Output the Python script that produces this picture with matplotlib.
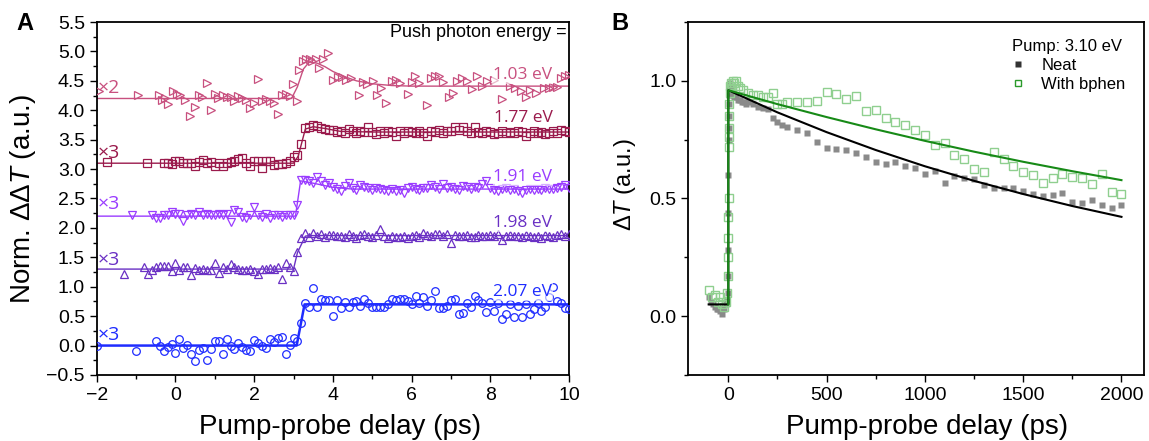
import numpy as np
import matplotlib
matplotlib.use("Agg")
import matplotlib.pyplot as plt
from matplotlib.lines import Line2D
from matplotlib.ticker import MultipleLocator

plt.rcParams['font.family'] = ['Liberation Sans', 'DejaVu Sans']
plt.rcParams['mathtext.fontset'] = 'custom'
plt.rcParams['mathtext.rm'] = 'Liberation Sans'
plt.rcParams['mathtext.it'] = 'Liberation Sans:italic'

#%% panel A data (pump-probe delay in ps, shared grid)
delay_a = [-0.5, -0.4, -0.3, -0.2, -0.1,
           0.0, 0.1, 0.2, 0.3, 0.4, 0.5, 0.6, 0.7, 0.8, 0.9,
           1.0, 1.1, 1.2, 1.3, 1.4, 1.5, 1.6, 1.7, 1.8, 1.9,
           2.0, 2.1, 2.2, 2.3, 2.4, 2.5, 2.6, 2.7, 2.8, 2.9,
           3.0, 3.1, 3.2, 3.3, 3.4, 3.5, 3.6, 3.7, 3.8, 3.9,
           4.0, 4.1, 4.2, 4.3, 4.4, 4.5, 4.6, 4.7, 4.8, 4.9,
           5.0, 5.1, 5.2, 5.3, 5.4, 5.5, 5.6, 5.7, 5.8, 5.9,
           6.0, 6.1, 6.2, 6.3, 6.4, 6.5, 6.6, 6.7, 6.8, 6.9,
           7.0, 7.1, 7.2, 7.3, 7.4, 7.5, 7.6, 7.7, 7.8, 7.9,
           8.0, 8.1, 8.2, 8.3, 8.4, 8.5, 8.6, 8.7, 8.8, 8.9,
           9.0, 9.1, 9.2, 9.3, 9.4, 9.5, 9.6, 9.7, 9.8, 9.9,
           10.0]
nan = np.nan

# 2.07 eV (x3)
y_207 = [0.08, 0.00, -0.10, -0.02, 0.02,
         -0.12, 0.11, -0.04, 0.01, -0.15, -0.27, -0.08, -0.04, -0.24, -0.06,
         0.08, 0.08, -0.14, 0.11, 0.00, -0.06, 0.04, -0.02, -0.07, -0.10,
         0.10, 0.05, -0.01, -0.04, 0.11, 0.06, 0.13, 0.15, -0.14, 0.01,
         0.13, 0.07, 0.39, 0.73, 0.66, 0.98, 0.66, 0.80, 0.77, 0.77,
         0.50, 0.77, 0.64, 0.74, 0.66, 0.74, 0.75, 0.68, 0.80, 0.72,
         0.66, 0.66, 0.66, 0.66, 0.70, 0.80, 0.77, 0.79, 0.80, 0.75,
         0.70, 0.84, 0.72, 0.83, 0.67, 0.78, 0.93, 0.64, 0.64, 0.67,
         0.77, 0.80, 0.53, 0.55, 0.73, 0.65, 0.85, 0.77, 0.72, 0.57,
         0.74, 0.59, 0.72, 0.45, 0.54, 0.70, 0.48, 0.68, 0.49, 0.70,
         0.54, 0.62, 0.72, 0.59, 0.66, 0.83, 0.99, 0.75, 0.72, 0.64,
         0.62]
x_207_early = [-2.0, -1.0]
y_207_early = [0.0, -0.10]
fit_x_207 = [-2.0, 3.08, 3.28, 10.0]
fit_y_207 = [0.0, 0.0, 0.70, 0.70]

# 1.98 eV (x3)
y_198 = [1.34, 1.35, 1.35, 1.35, 1.26,
         1.41, 1.29, 1.34, 1.34, 1.20, 1.32, 1.29, 1.30, 1.29, 1.29,
         1.40, 1.24, 1.33, 1.31, 1.38, 1.33, 1.31, 1.29, 1.29, 1.30,
         1.26, 1.22, 1.31, 1.31, 1.32, 1.31, 1.34, 1.13, 1.41, 1.34,
         1.26, 1.59, 1.82, 1.92, 1.85, 1.91, 1.87, 1.89, 1.85, 1.88,
         1.88, 1.86, 1.87, 1.84, 1.89, 1.86, 1.83, 1.88, 1.90, 1.87,
         1.84, 1.88, 1.98, 1.86, 1.82, 1.87, 1.85, 1.84, 1.87, 1.83,
         1.86, 1.88, 1.85, 1.91, 1.88, 1.86, 1.89, 1.90, 1.87, 1.89,
         1.74, 1.88, 1.86, 1.87, 1.88, 1.85, 1.84, 1.88, 1.87, 1.86,
         1.88, 1.86, 1.89, 1.80, 1.87, 1.88, 1.86, 1.87, 1.85, 1.88,
         1.87, 1.84, 1.86, 1.82, 1.88, 1.86, 1.85, 1.88, 1.89, 1.87,
         1.90]
x_198_early = [-1.3, -0.8, -0.7, -0.6]
y_198_early = [1.22, 1.34, 1.22, 1.28]
fit_x_198 = [-2.0, 3.0, 3.1, 3.3, 3.4, 10.0]
fit_y_198 = [1.30, 1.30, 1.58, 1.86, 1.87, 1.87]

# 1.91 eV (x3)
y_191 = [2.16, 2.17, 2.22, 2.22, 2.27,
         2.24, 2.24, 2.11, 2.22, 2.24, 2.22, 2.27, 2.22, 2.24, 2.22,
         2.22, 2.24, 2.22, 2.24, 2.10, 2.30, 2.27, 2.19, 2.16, 2.22,
         2.36, 2.22, 2.19, 2.24, 2.16, 2.22, 2.22, 2.19, 2.22, 2.22,
         2.22, 2.39, 2.82, 2.82, 2.79, 2.77, 2.87, 2.79, 2.73, 2.76,
         2.70, 2.66, 2.62, 2.71, 2.77, 2.68, 2.64, 2.73, 2.70, 2.68,
         2.65, 2.67, 2.66, 2.64, 2.62, 2.66, 2.63, 2.65, 2.60, 2.67,
         2.70, 2.66, 2.64, 2.68, 2.67, 2.73, 2.69, 2.66, 2.75, 2.68,
         2.70, 2.66, 2.64, 2.72, 2.69, 2.66, 2.70, 2.68, 2.75, 2.79,
         2.68, 2.65, 2.62, 2.66, 2.68, 2.64, 2.66, 2.63, 2.60, 2.65,
         2.66, 2.64, 2.66, 2.65, 2.67, 2.66, 2.66, 2.68, 2.70, 2.73,
         2.68]
x_191_early = [-1.1, -0.6]
y_191_early = [2.22, 2.22]
fit_x_191 = [-2.0, 3.05, 3.18, 3.5, 4.0, 4.5, 10.0]
fit_y_191 = [2.20, 2.20, 2.80, 2.76, 2.69, 2.66, 2.66]

# 1.77 eV (x3)
y_177 = [nan, nan, 3.10, 3.11, 3.09,
         3.13, 3.14, 3.11, 3.11, 3.10, 3.06, 3.12, 3.15, 3.11, 3.12,
         3.05, 3.10, 3.05, 3.11, 3.12, 3.13, 3.17, 3.19, 3.10, 3.05,
         3.14, 3.14, 3.02, 3.14, 3.13, 3.07, 3.08, 3.09, 3.11, 3.14,
         3.20, 3.24, 3.43, 3.70, 3.72, 3.75, 3.73, 3.70, 3.68, 3.66,
         3.66, 3.63, 3.65, 3.62, 3.68, 3.64, 3.62, 3.65, 3.63, 3.72,
         3.63, 3.60, 3.64, 3.62, 3.65, 3.63, 3.57, 3.64, 3.62, 3.65,
         3.63, 3.61, 3.65, 3.62, 3.57, 3.64, 3.63, 3.66, 3.62, 3.64,
         3.65, 3.71, 3.66, 3.71, 3.64, 3.62, 3.71, 3.63, 3.61, 3.64,
         3.63, 3.60, 3.62, 3.64, 3.61, 3.63, 3.62, 3.65, 3.63, 3.57,
         3.62, 3.64, 3.61, 3.63, 3.60, 3.62, 3.65, 3.62, 3.66, 3.64,
         3.63]
x_177_early = [-1.73, -0.73]
y_177_early = [3.12, 3.11]
fit_x_177 = [-2.0, 3.0, 3.12, 3.3, 3.5, 3.8, 4.2, 5.0, 10.0]
fit_y_177 = [3.10, 3.10, 3.22, 3.68, 3.72, 3.69, 3.64, 3.63, 3.63]

# 1.03 eV (x2), own delays
x_103 = [-1.94, -0.94, -0.43, -0.35, -0.26, -0.18, -0.05, 0.04, 0.12, 0.25,
         0.38, 0.5, 0.61, 0.68, 0.8, 0.9, 1.0, 1.09, 1.2, 1.3,
         1.4, 1.49, 1.59, 1.68, 1.79, 1.9, 1.99, 2.09, 2.19, 2.3,
         2.41, 2.51, 2.6, 2.7, 2.81, 2.91, 2.98, 3.08, 3.15, 3.23,
         3.31, 3.41, 3.48, 3.58, 3.66, 3.75, 3.87, 4.0, 4.13, 4.24,
         4.34, 4.47, 4.66, 4.77, 4.87, 5.02, 5.12, 5.23, 5.36, 5.49,
         5.6, 5.7, 5.9, 6.0, 6.08, 6.2, 6.38, 6.49, 6.6, 6.7,
         6.8, 6.94, 7.05, 7.15, 7.28, 7.4, 7.53, 7.66, 7.79, 7.92,
         8.09, 8.3, 8.5, 8.64, 8.77, 8.9, 9.02, 9.15, 9.36, 9.5,
         9.6, 9.7, 9.8, 9.9, 10.0]
y_103 = [4.32, 4.26, 4.26, 4.17, 4.20, 4.10, 4.33, 4.27, 4.26, 4.18,
         3.91, 4.06, 4.26, 4.23, 4.47, 4.01, 4.28, 4.20, 4.26, 4.23,
         4.22, 4.15, 4.24, 4.20, 4.17, 4.03, 4.12, 4.53, 4.15, 4.19,
         4.15, 4.12, 3.93, 4.26, 4.27, 4.25, 4.44, 4.15, 4.68, 4.83,
         4.87, 4.87, 4.84, 4.87, 4.72, 4.87, 4.97, 4.52, 4.57, 4.57,
         4.52, 4.54, 4.26, 4.48, 4.44, 4.50, 4.26, 4.38, 4.13, 4.50,
         4.52, 4.46, 4.28, 4.48, 4.58, 4.46, 4.09, 4.55, 4.58, 4.58,
         4.48, 4.23, 4.29, 4.50, 4.55, 4.50, 4.36, 4.58, 4.42, 4.50,
         4.52, 4.19, 4.41, 4.38, 4.32, 4.23, 4.35, 4.30, 4.38, 4.38,
         4.40, 4.40, 4.55, 4.58, 4.60]
fit_x_103 = [-2.0, 2.95, 3.1, 3.25, 3.4, 3.6, 3.8, 4.0, 4.3, 4.6, 5.0, 5.5, 6.0, 10.0]
fit_y_103 = [4.20, 4.20, 4.40, 4.70, 4.82, 4.80, 4.74, 4.66, 4.57, 4.50, 4.45, 4.42, 4.41, 4.41]

labels_a = ["1.03 eV", "1.77 eV", "1.91 eV", "1.98 eV", "2.07 eV"]
scales_a = ["×2", "×3", "×3", "×3", "×3"]
colors_a = ["#c8507f", "#9a1a4c", "#9a3cff", "#6a30c4", "#1f2cff"]
markers_a = [">", "s", "v", "^", "o"]

#%% panel B data (delay in ps)
t_neat = [-100, -90, -80, -70, -60, -50, -40, -30, -20, -10,
          -6, -4, -3, -2, -1, 0, 1, 2, 3, 4, 5, 6, 8, 10, 15, 20, 25, 30,
          40, 50, 60, 70, 80, 90, 100, 125, 150, 175, 200, 225, 250, 275, 300,
          350, 400, 450, 500, 550, 600, 650, 700, 750, 800, 850, 900, 950,
          1000, 1050, 1100, 1150, 1200, 1250, 1300, 1350, 1400, 1450, 1500,
          1550, 1600, 1650, 1700, 1750, 1800, 1850, 1900, 1950, 2000]
dT_neat = [0.08, 0.06, 0.05, 0.04, 0.03, 0.03, 0.02, 0.01, 0.03, 0.05,
           0.07, 0.10, 0.17, 0.28, 0.44, 0.60, 0.75, 0.80, 0.85, 0.90, 0.94, 0.97, 0.99, 0.97, 0.95, 0.96, 0.94, 0.93,
           0.93, 0.92, 0.92, 0.91, 0.91, 0.90, 0.91, 0.90, 0.89, 0.885, 0.88, 0.84, 0.826, 0.812, 0.805,
           0.793, 0.779, 0.738, 0.714, 0.710, 0.704, 0.693, 0.675, 0.655, 0.646, 0.657, 0.637, 0.630,
           0.604, 0.618, 0.567, 0.596, 0.587, 0.581, 0.559, 0.545, 0.545, 0.546, 0.531,
           0.518, 0.510, 0.515, 0.524, 0.486, 0.482, 0.495, 0.472, 0.461, 0.472]

t_bphen = [-100, -85, -70, -55, -40, -30, -20, -10, -5, -3, -2, -1,
           0, 1, 2, 3, 4, 5, 6, 8, 10, 15, 20, 25, 30, 40, 50, 60, 75,
           100, 125, 150, 175, 200, 225, 250, 275, 300,
           350, 400, 450, 500, 550, 600, 650, 700, 750, 800, 850, 900, 950,
           1000, 1050, 1100, 1150, 1200, 1250, 1300, 1350, 1400, 1450, 1500,
           1550, 1600, 1650, 1700, 1750, 1800, 1850, 1900, 1950, 2000]
dT_bphen = [0.11, 0.08, 0.09, 0.06, 0.08, 0.05, 0.04, 0.06, 0.10, 0.17, 0.25, 0.33,
            0.42, 0.50, 0.72, 0.76, 0.80, 0.85, 0.90, 0.95, 0.98, 0.99, 0.97, 1.00, 0.99, 1.00, 0.98, 0.97, 0.96,
            0.95, 0.94, 0.94, 0.93, 0.93, 0.95, 0.90, 0.90, 0.91,
            0.908, 0.908, 0.914, 0.953, 0.945, 0.921, 0.934, 0.871, 0.874, 0.844, 0.824, 0.812, 0.793,
            0.770, 0.728, 0.736, 0.683, 0.668, 0.627, 0.612, 0.697, 0.668, 0.637, 0.612,
            0.598, 0.566, 0.586, 0.606, 0.591, 0.586, 0.563, 0.603, 0.528, 0.521]

fit_t_neat = [-100, 0, 0, 250, 500, 750, 1000, 1250, 1500, 1750, 2000]
fit_neat = [0.05, 0.05, 0.96, 0.866, 0.782, 0.706, 0.637, 0.575, 0.519, 0.468, 0.422]
fit_t_bphen = [0, 0, 250, 500, 750, 1000, 1250, 1500, 1750, 2000]
fit_bphen = [0.05, 0.96, 0.901, 0.846, 0.794, 0.745, 0.699, 0.656, 0.616, 0.578]

#%%
fig = plt.figure(figsize=(11.49, 4.41), dpi=100)
axA = fig.add_axes([0.0842, 0.1497, 0.4110, 0.8004])
axB = fig.add_axes([0.5988, 0.1497, 0.3969, 0.8004])

series = [(x_103, y_103, [], [], fit_x_103, fit_y_103),
          (delay_a, y_177, x_177_early, y_177_early, fit_x_177, fit_y_177),
          (delay_a, y_191, x_191_early, y_191_early, fit_x_191, fit_y_191),
          (delay_a, y_198, x_198_early, y_198_early, fit_x_198, fit_y_198),
          (delay_a, y_207, x_207_early, y_207_early, fit_x_207, fit_y_207)]
label_y = [4.60, 3.87, 2.87, 2.08, 0.91]
scale_y = [4.38, 3.27, 2.40, 1.45, 0.18]

for k, (xs, ys, xe, ye, fx, fy) in enumerate(series):
    c = colors_a[k]
    lw = 1.8 if k == 4 else 1.0
    axA.plot(fx, fy, color=c, lw=lw, zorder=2)
    axA.plot(list(xe) + list(xs), list(ye) + list(ys), linestyle="none",
             marker=markers_a[k], ms=5.5, mfc="none", mec=c, mew=0.9, zorder=3)
    axA.text(9.58, label_y[k], labels_a[k], color=c, ha="right", va="center",
             fontsize=12.5, family=["Open Sans", "DejaVu Sans"], zorder=4,
             bbox=dict(boxstyle="square,pad=0.05", fc="white", ec="none", alpha=0.6))
    axA.text(-1.97, scale_y[k], scales_a[k], color=c, ha="left", va="center",
             fontsize=14, family=["Open Sans", "DejaVu Sans"], zorder=4)

axA.text(9.93, 5.33, "Push photon energy =", ha="right", va="center", fontsize=13)
axA.set_xlim(-2, 10)
axA.set_ylim(-0.5, 5.5)
axA.xaxis.set_major_locator(MultipleLocator(2))
axA.xaxis.set_minor_locator(MultipleLocator(1))
axA.yaxis.set_major_locator(MultipleLocator(0.5))
axA.yaxis.set_minor_locator(MultipleLocator(0.25))
axA.set_xlabel("Pump-probe delay (ps)", fontsize=20)
axA.xaxis.set_label_coords(0.515, -0.11)
axA.xaxis.label.set_va("top")
axA.set_ylabel("Norm. ΔΔ$T$ (a.u.)", fontsize=20, labelpad=6)

# panel B
axB.plot(t_neat, dT_neat, linestyle="none", marker="s", ms=5,
         mfc="#8a8a8a", mec="none", zorder=2)
axB.plot(t_bphen, dT_bphen, linestyle="none", marker="s", ms=5.3,
         mfc="none", mec="#8fcf8f", mew=1.0, zorder=3)
axB.plot(fit_t_neat, fit_neat, color="black", lw=1.5, zorder=4)
axB.plot(fit_t_bphen, fit_bphen, color="#178a17", lw=1.5, zorder=5)

handles = [Line2D([], [], linestyle="none", marker="s", ms=4.5, mfc="#333333", mec="none"),
           Line2D([], [], linestyle="none", marker="s", ms=5, mfc="none", mec="#2a9a2a", mew=1.0)]
leg = axB.legend(handles, ["Neat", "With bphen"], title="Pump: 3.10 eV",
                 loc="upper right", bbox_to_anchor=(0.985, 0.985), frameon=False,
                 fontsize=12, title_fontsize=12, handletextpad=0.8,
                 borderpad=0.2, labelspacing=0.25, handlelength=1.2)

axB.set_xlim(-205, 2115)
axB.set_ylim(-0.25, 1.25)
axB.xaxis.set_major_locator(MultipleLocator(500))
axB.xaxis.set_minor_locator(MultipleLocator(250))
axB.yaxis.set_major_locator(MultipleLocator(0.5))
axB.yaxis.set_minor_locator(MultipleLocator(0.25))
axB.set_xlabel("Pump-probe delay (ps)", fontsize=20)
axB.xaxis.set_label_coords(0.525, -0.11)
axB.xaxis.label.set_va("top")
axB.set_ylabel("Δ$T$ (a.u.)", fontsize=17)
axB.yaxis.set_label_coords(-0.11, 0.54)

for ax in (axA, axB):
    ax.tick_params(which="both", direction="out", labelsize=14, width=1.0,
                   top=False, right=False)
    ax.tick_params(which="major", length=5)
    ax.tick_params(which="minor", length=3)
    for sp in ax.spines.values():
        sp.set_linewidth(1.3)

fig.text(0.0218, 0.9456, "A", fontsize=17, fontweight="bold", ha="center", va="center")
fig.text(0.5396, 0.9456, "B", fontsize=17, fontweight="bold", ha="center", va="center")

fig.savefig("out.png", dpi=100)
